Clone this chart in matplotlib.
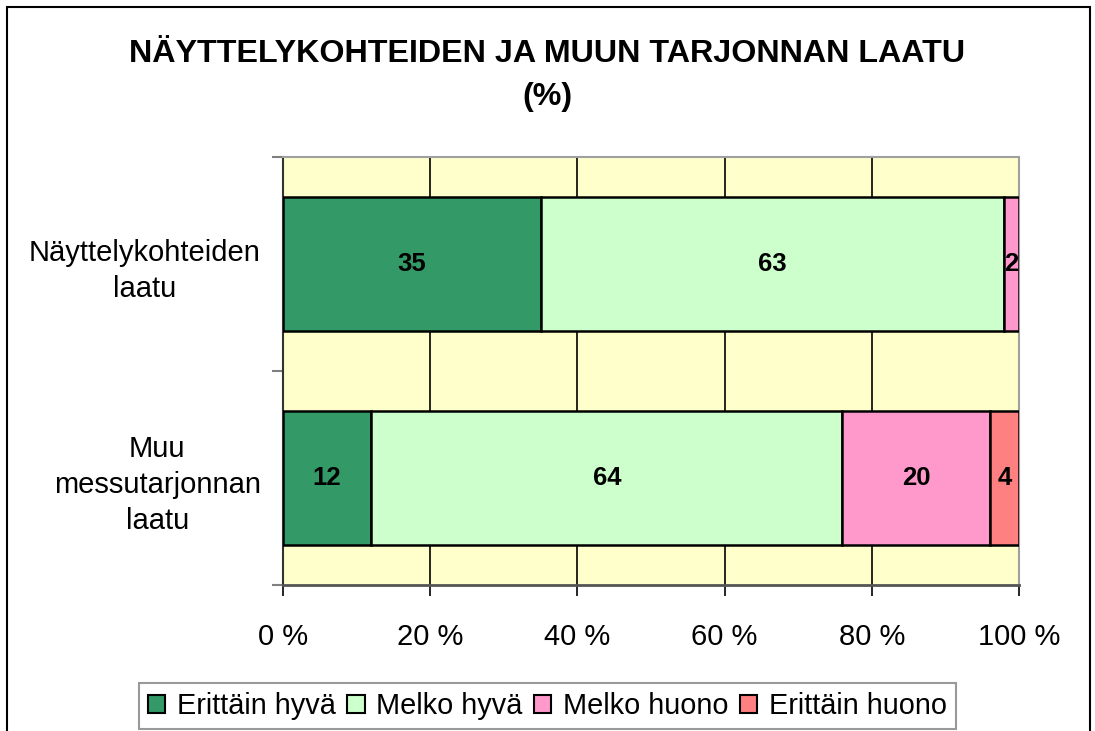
import numpy as np
import matplotlib.pyplot as plt
from matplotlib.patches import Rectangle, Patch

plt.rcParams['font.family'] = ['Liberation Sans', 'DejaVu Sans']

categories = ['Näyttelykohteiden\nlaatu', 'Muu\nmessutarjonnan\nlaatu']
series_names = ['Erittäin hyvä', 'Melko hyvä', 'Melko huono', 'Erittäin huono']
values = [
    [35, 12],   # Erittäin hyvä
    [63, 64],   # Melko hyvä
    [2, 20],    # Melko huono
    [0, 4],     # Erittäin huono
]
colors = ['#339966', '#CCFFCC', '#FF99CC', '#FF8080']
xticks = [0, 20, 40, 60, 80, 100]

fig = plt.figure(figsize=(10.95, 7.31), dpi=100)
ax = fig.add_axes([0.2584, 0.1997, 0.6722, 0.5855])
ax.set_facecolor('#FFFFCC')

# outer chart border (bottom edge cut off in the reference)
fig.patches.append(Rectangle((0.006, -0.05), 0.989, 1.04, transform=fig.transFigure,
                             fill=False, edgecolor='black', linewidth=1.5))

ypos = np.array([0, 1])
left = np.zeros(len(categories))
for name, vals, col in zip(series_names, values, colors):
    vals = np.array(vals, dtype=float)
    mask = vals > 0
    ax.barh(ypos[mask], vals[mask], left=left[mask], height=0.63, color=col,
            edgecolor='black', linewidth=1.8, zorder=3, label=name)
    for y, v, l in zip(ypos[mask], vals[mask], left[mask]):
        ax.text(l + v / 2, y, '%d' % v, ha='center', va='center',
                fontsize=18.5, fontweight='bold', zorder=4)
    left = left + vals

ax.set_xlim(0, 100)
ax.set_ylim(1.5, -0.5)
ax.set_xticks(xticks)
ax.set_xticklabels(['%d %%' % t for t in xticks], fontsize=21)
ax.set_yticks(ypos)
ax.set_yticklabels(categories, fontsize=21, multialignment='center', linespacing=1.35)
ax.set_yticks([-0.5, 0.5, 1.5], minor=True)
ax.tick_params(axis='y', which='major', length=0, pad=16)
ax.tick_params(axis='y', which='minor', length=8, color='#808080', width=1.5)
ax.tick_params(axis='x', length=8, width=1.2, color='black', pad=19)
ax.xaxis.grid(True, color='black', linewidth=1.2, zorder=1)
ax.set_axisbelow(True)

ax.spines['left'].set_color('#333333')
ax.spines['left'].set_linewidth(1.5)
ax.spines['bottom'].set_color('#555555')
ax.spines['bottom'].set_linewidth(2)
ax.spines['top'].set_color('#A0A0A0')
ax.spines['right'].set_color('#A0A0A0')
ax.spines['top'].set_linewidth(1.5)
ax.spines['right'].set_linewidth(1.5)

fig.text(0.5, 0.897, 'NÄYTTELYKOHTEIDEN JA MUUN TARJONNAN LAATU\n(%)',
         ha='center', va='center', fontsize=23.2, fontweight='bold', linespacing=1.58)

handles = [Patch(facecolor=c, edgecolor='black', linewidth=1.5) for c in colors]
leg = fig.legend(handles, series_names, loc='center', bbox_to_anchor=(0.5, 0.034),
                 ncol=4, fontsize=20.8, frameon=True, fancybox=False,
                 handlelength=0.6, handleheight=0.6, handletextpad=0.4,
                 columnspacing=0.4, borderpad=0.3, borderaxespad=0)
leg.get_frame().set_edgecolor('#808080')
leg.get_frame().set_linewidth(1.5)

fig.savefig('out.png', dpi=100)
